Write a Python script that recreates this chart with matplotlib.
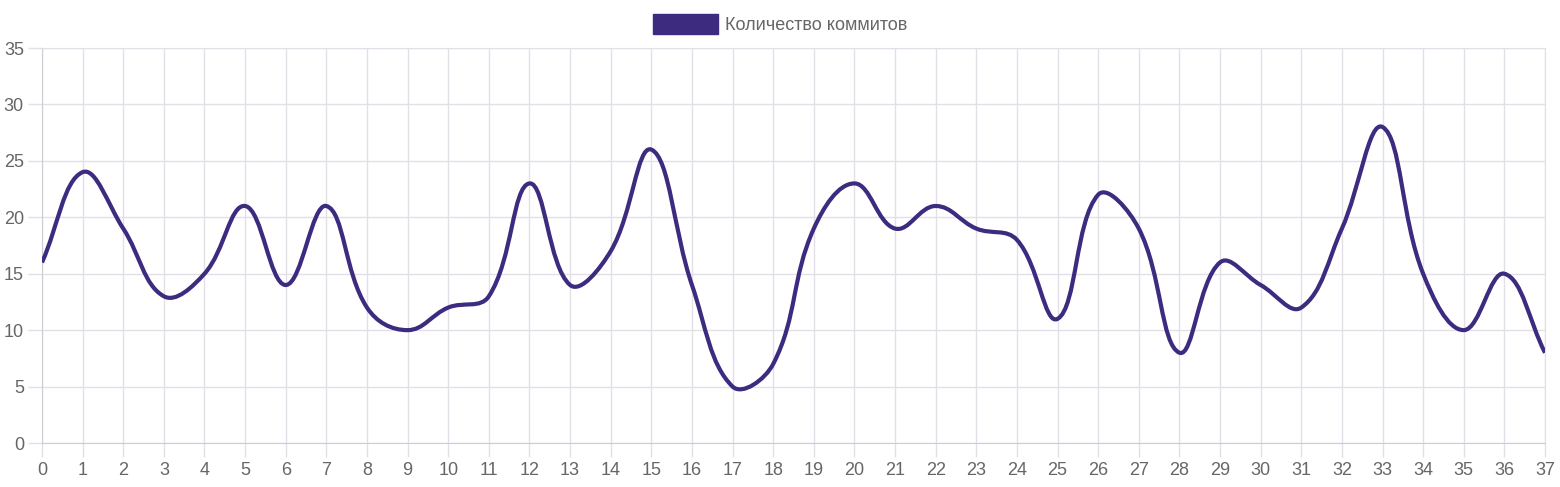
import matplotlib
matplotlib.use("Agg")
import matplotlib.pyplot as plt
import numpy as np
from matplotlib.path import Path
from matplotlib.patches import PathPatch, Patch

# data
days = list(range(38))
commits = [16, 24, 19, 13, 15, 21, 14, 21, 12, 10, 12, 13, 23, 14, 17, 26, 14, 5, 7, 19,
           23, 19, 21, 19, 18, 11, 22, 19, 8, 16, 14, 12, 19, 28, 15, 10, 15, 8]
series_label = "Количество коммитов"
y_ticks = [0, 5, 10, 15, 20, 25, 30, 35]

line_color = "#3d2b80"
grid_color = "#e2e0e6"
text_color = "#666666"

plt.rcParams['font.family'] = ['Liberation Sans', 'DejaVu Sans']

W, H = 1560, 487
fig = plt.figure(figsize=(W / 100, H / 100), dpi=100)
ax = fig.add_axes([42 / W, 1 - 443 / H, (1545 - 42) / W, (443 - 48) / H])
ax.set_xlim(0, 37)
ax.set_ylim(0, 35)


def spline_path(ax, xs, ys, tension=0.4):
    # Chart.js-style cubic interpolation, distances measured in pixels
    pts = ax.transData.transform(np.column_stack([xs, ys]))
    n = len(pts)
    c_prev = pts.copy()
    c_next = pts.copy()
    for i in range(n):
        p0 = pts[i - 1] if i > 0 else pts[i]
        p1 = pts[i]
        p2 = pts[i + 1] if i < n - 1 else pts[i]
        d01 = np.hypot(*(p1 - p0))
        d12 = np.hypot(*(p2 - p1))
        tot = d01 + d12
        s01 = d01 / tot if tot else 0
        s12 = d12 / tot if tot else 0
        c_prev[i] = p1 - tension * s01 * (p2 - p0)
        c_next[i] = p1 + tension * s12 * (p2 - p0)
    verts = [pts[0]]
    codes = [Path.MOVETO]
    for i in range(n - 1):
        verts += [c_next[i], c_prev[i + 1], pts[i + 1]]
        codes += [Path.CURVE4] * 3
    verts = ax.transData.inverted().transform(np.array(verts))
    return Path(verts, codes)


path = spline_path(ax, days, commits)
ax.add_patch(PathPatch(path, facecolor="none", edgecolor=line_color, lw=3.0,
                       capstyle="butt", joinstyle="round", zorder=3))

ax.set_xticks(days)
ax.set_xticklabels([str(d) for d in days])
ax.set_yticks(y_ticks)
ax.grid(True, color=grid_color, lw=1)
ax.set_axisbelow(True)
for s in ["top", "right"]:
    ax.spines[s].set_color(grid_color)
for s in ["left", "bottom"]:
    ax.spines[s].set_color("#cfcdd3")
ax.tick_params(axis="both", colors=grid_color, labelcolor=text_color,
               labelsize=13, length=10, width=1)
ax.tick_params(axis="x", pad=4)
ax.tick_params(axis="y", pad=3)

fig.legend(handles=[Patch(facecolor=line_color, edgecolor=line_color, label=series_label)],
           loc="center", bbox_to_anchor=(0.5, 1 - 24 / H), frameon=False,
           fontsize=13, handlelength=3.6, handleheight=1.3, handletextpad=0.4,
           labelcolor=text_color)

fig.savefig("out.png", dpi=100, facecolor="white")
